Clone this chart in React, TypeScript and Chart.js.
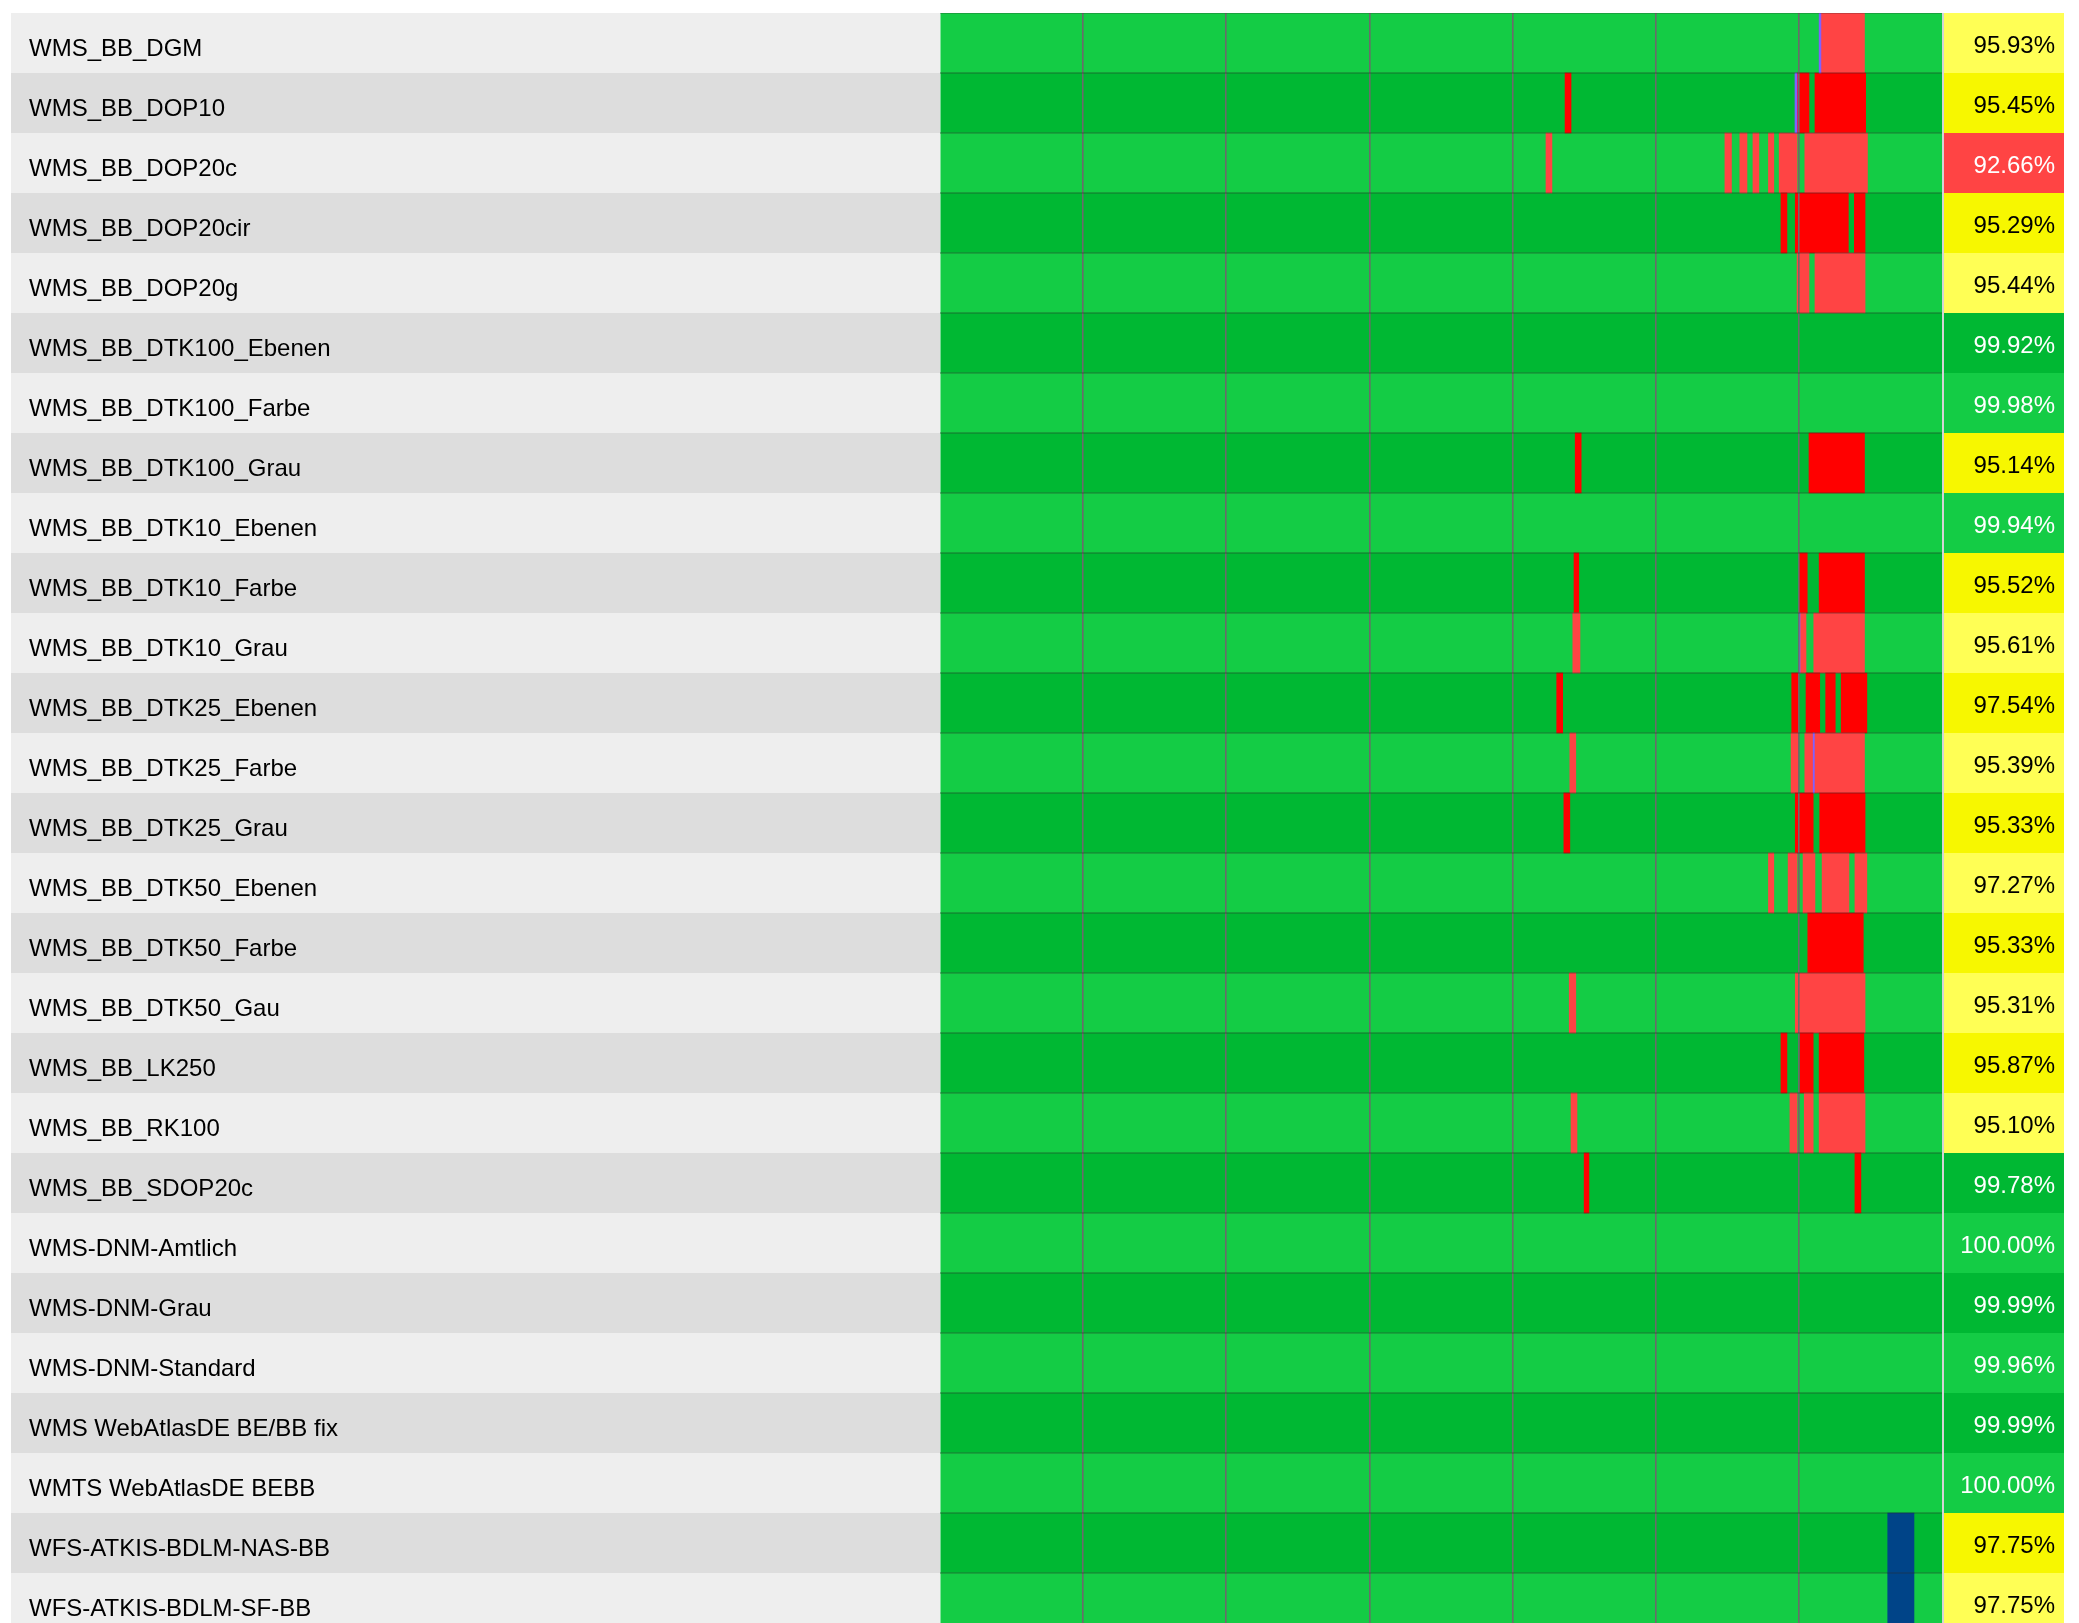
import React, { useEffect, useRef } from 'react';
import { Chart, registerables } from 'chart.js';

Chart.register(...registerables);

// ---- data ----
const services = [
  'WMS_BB_DGM',
  'WMS_BB_DOP10',
  'WMS_BB_DOP20c',
  'WMS_BB_DOP20cir',
  'WMS_BB_DOP20g',
  'WMS_BB_DTK100_Ebenen',
  'WMS_BB_DTK100_Farbe',
  'WMS_BB_DTK100_Grau',
  'WMS_BB_DTK10_Ebenen',
  'WMS_BB_DTK10_Farbe',
  'WMS_BB_DTK10_Grau',
  'WMS_BB_DTK25_Ebenen',
  'WMS_BB_DTK25_Farbe',
  'WMS_BB_DTK25_Grau',
  'WMS_BB_DTK50_Ebenen',
  'WMS_BB_DTK50_Farbe',
  'WMS_BB_DTK50_Gau',
  'WMS_BB_LK250',
  'WMS_BB_RK100',
  'WMS_BB_SDOP20c',
  'WMS-DNM-Amtlich',
  'WMS-DNM-Grau',
  'WMS-DNM-Standard',
  'WMS WebAtlasDE BE/BB fix',
  'WMTS WebAtlasDE BEBB',
  'WFS-ATKIS-BDLM-NAS-BB',
  'WFS-ATKIS-BDLM-SF-BB',
];

const availability = [
  95.93, 95.45, 92.66, 95.29, 95.44, 99.92, 99.98, 95.14, 99.94, 95.52,
  95.61, 97.54, 95.39, 95.33, 97.27, 95.33, 95.31, 95.87, 95.1, 99.78,
  100.0, 99.99, 99.96, 99.99, 100.0, 97.75, 97.75,
];

// time range in hours (7 days), one grid line per day
const rangeHours = 168;
const dayHours = 24;

// [row index, start hour, end hour]
const outageSegments: [number, number, number][] = [
  [0, 147.7, 155.0],
  [1, 104.8, 105.8], [1, 143.7, 145.7], [1, 146.7, 155.2],
  [2, 101.6, 102.6], [2, 131.6, 132.7], [2, 134.1, 135.3], [2, 136.3, 137.3],
  [2, 138.9, 139.8], [2, 140.7, 143.7], [2, 145.0, 155.5],
  [3, 141.0, 142.0], [3, 143.4, 152.3], [3, 153.3, 155.1],
  [4, 143.7, 145.7], [4, 146.7, 155.1],
  [7, 106.5, 107.5], [7, 145.7, 155.0],
  [9, 106.3, 107.1], [9, 144.0, 145.4], [9, 147.4, 155.0],
  [10, 106.1, 107.3], [10, 144.2, 145.2], [10, 146.5, 155.0],
  [11, 103.4, 104.4], [11, 142.8, 143.9], [11, 145.2, 147.5], [11, 148.5, 150.1], [11, 151.1, 155.4],
  [12, 105.6, 106.6], [12, 142.7, 143.9], [12, 145.0, 155.0],
  [13, 104.6, 105.6], [13, 143.4, 146.4], [13, 147.5, 155.1],
  [14, 138.9, 139.8], [14, 142.2, 143.7], [14, 144.7, 146.7], [14, 147.9, 152.4], [14, 153.4, 155.4],
  [15, 145.5, 154.8],
  [16, 105.5, 106.6], [16, 143.4, 155.1],
  [17, 141.0, 142.0], [17, 144.2, 146.4], [17, 147.4, 154.9],
  [18, 105.8, 106.8], [18, 142.5, 143.7], [18, 144.9, 146.4], [18, 147.4, 155.1],
  [19, 108.0, 108.8], [19, 153.4, 154.4],
];

const unknownSegments: [number, number, number][] = [
  [0, 147.4, 147.7],
  [1, 143.35, 143.7],
  [10, 143.9, 144.2],
  [12, 146.4, 146.6],
];

const maintenanceSegments: [number, number, number][] = [
  [25, 158.9, 163.3],
  [26, 158.9, 163.3],
];

// ---- colours (index 0 = light row, 1 = dark row) ----
const GREEN = ['#14cc45', '#00b833'];
const RED = ['#ff4444', '#ff0000'];
const YELLOW = ['#ffff55', '#f7f700'];
const LABEL_BG = ['#eeeeee', '#dddddd'];
const BLUE = '#004488';
const PURPLE = '#8060ff';

const pctLabels = availability.map((v) => v.toFixed(2) + '%');

function pctBg(v: number, i: number) {
  const p = i % 2;
  if (v >= 99.5) return GREEN[p];
  if (v >= 95) return YELLOW[p];
  return RED[p];
}
function pctFg(v: number) {
  return v >= 95 && v < 99.5 ? '#000000' : '#ffffff';
}

const rowParity = (ctx: any) => {
  const raw = ctx && ctx.raw;
  if (!raw) return 0;
  return services.indexOf(raw.y) % 2;
};

const toPoints = (segs: [number, number, number][]) =>
  segs.map(([r, a, b]) => ({ y: services[r], x: [a, b] }));

const cellPlugin = {
  id: 'cellBackgrounds',
  beforeDraw(chart: any) {
    const { ctx, chartArea } = chart;
    const yScale = chart.scales.y;
    const band = (yScale.bottom - yScale.top) / services.length;
    ctx.save();
    services.forEach((_, i) => {
      const c = yScale.getPixelForValue(i);
      const top = c - band / 2;
      ctx.fillStyle = LABEL_BG[i % 2];
      ctx.fillRect(0, top, chartArea.left, band);
      ctx.fillStyle = pctBg(availability[i], i);
      ctx.fillRect(chartArea.right, top, chart.width - chartArea.right, band);
    });
    ctx.restore();
  },
  afterDraw(chart: any) {
    const { ctx, chartArea } = chart;
    ctx.save();
    ctx.fillStyle = '#d4d4d4';
    ctx.fillRect(chartArea.right, chartArea.top, 2, chartArea.bottom - chartArea.top);
    ctx.restore();
  },
};

export default function App() {
  const ref = useRef<HTMLCanvasElement>(null);

  useEffect(() => {
    Chart.defaults.font.family = '"Liberation Sans", Arial, sans-serif';
    const barCommon = {
      grouped: false,
      barPercentage: 1,
      categoryPercentage: 1,
      borderWidth: 0,
    };
    const chart = new Chart(ref.current as HTMLCanvasElement, {
      type: 'bar',
      data: {
        labels: services,
        datasets: [
          {
            ...barCommon,
            label: 'verfügbar',
            order: 3,
            data: services.map((s) => ({ y: s, x: [0, rangeHours] })),
            backgroundColor: (ctx: any) => GREEN[rowParity(ctx)],
          },
          {
            ...barCommon,
            label: 'Ausfall',
            order: 2,
            data: toPoints(outageSegments),
            backgroundColor: (ctx: any) => RED[rowParity(ctx)],
          },
          {
            ...barCommon,
            label: 'unbekannt',
            order: 1,
            data: toPoints(unknownSegments),
            backgroundColor: PURPLE,
          },
          {
            ...barCommon,
            label: 'Wartung',
            order: 0,
            data: toPoints(maintenanceSegments),
            backgroundColor: BLUE,
          },
        ] as any,
      },
      options: {
        indexAxis: 'y',
        animation: false,
        responsive: true,
        maintainAspectRatio: false,
        devicePixelRatio: 1,
        layout: { autoPadding: false, padding: { left: 18, right: 9, top: 0, bottom: 0 } },
        plugins: {
          legend: { display: false },
          tooltip: { enabled: false },
        },
        scales: {
          x: {
            type: 'linear',
            min: 0,
            max: rangeHours,
            ticks: { stepSize: dayHours, display: false },
            grid: {
              z: 1,
              drawTicks: false,
              lineWidth: 1.6,
              color: (c: any) =>
                c.tick && (c.tick.value === 0 || c.tick.value === rangeHours)
                  ? 'rgba(0,0,0,0)'
                  : '#6b6b6b',
            },
            border: { display: false },
          },
          y: {
            type: 'category',
            position: 'left',
            offset: true,
            grid: {
              z: 1,
              offset: true,
              drawTicks: false,
              lineWidth: 2,
              color: 'rgba(40,40,40,0.25)',
            },
            border: { display: false },
            ticks: {
              crossAlign: 'far',
              labelOffset: 6,
              color: '#000000',
              font: { size: 24 },
              padding: 0,
              autoSkip: false,
            },
            afterFit: (s: any) => {
              s.width = 911;
              s.paddingTop = 0;
              s.paddingBottom = 0;
            },
          },
          y2: {
            type: 'category',
            position: 'right',
            labels: pctLabels,
            offset: true,
            grid: { display: false, drawTicks: false },
            border: { display: false },
            ticks: {
              crossAlign: 'far',
              labelOffset: 3,
              color: (c: any) => pctFg(availability[c.index]),
              font: { size: 24 },
              padding: 0,
              autoSkip: false,
            },
            afterFit: (s: any) => {
              s.width = 113;
              s.paddingTop = 0;
              s.paddingBottom = 0;
            },
          },
        },
      } as any,
      plugins: [cellPlugin],
    });
    return () => chart.destroy();
  }, []);

  return (
    <div
      style={{
        position: 'absolute',
        left: 11,
        top: 13,
        width: 2053,
        height: 1610,
        overflow: 'hidden',
      }}
    >
      <div style={{ position: 'relative', width: 2053, height: 1620 }}>
        <canvas ref={ref} />
      </div>
    </div>
  );
}
